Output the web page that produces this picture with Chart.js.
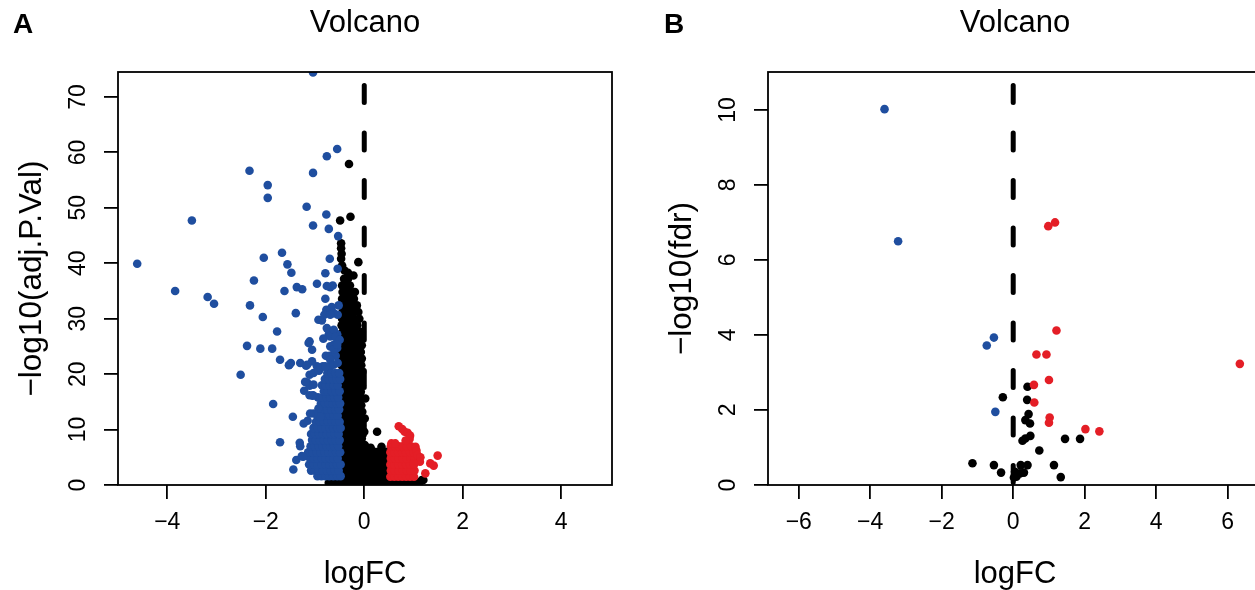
<!DOCTYPE html>
<html><head><meta charset="utf-8">
<script src="https://cdn.jsdelivr.net/npm/chart.js@4.4.1/dist/chart.umd.min.js"></script>
<style>
html,body{margin:0;padding:0;background:#fff;}
#wrap{position:relative;width:1255px;height:590px;overflow:hidden;background:#fff;}
.pan{position:absolute;top:0;width:640px;height:590px;}
.lab{position:absolute;top:8px;font:bold 28px "Liberation Sans",Arial,sans-serif;color:#000;}
</style></head><body>
<div id="wrap">
<div class="pan" style="left:0"><canvas id="cA" width="640" height="590"></canvas></div>
<div class="pan" style="left:650px"><canvas id="cB" width="640" height="590"></canvas></div>
<div class="lab" style="left:13px">A</div>
<div class="lab" style="left:664px">B</div>
</div>
<script>
// ---------- Panel A data (logFC, -log10 adj.P.Val) ----------
const xTicksA = [-4, -2, 0, 2, 4];
const yTicksA = [0, 10, 20, 30, 40, 50, 60, 70];
const blueOutA = [[-1.04,74.4],[-0.55,60.6],[-0.76,59.3],[-2.33,56.7],[-1.04,56.3],[-1.96,54.1],[-1.96,51.8],[-1.17,50.2],[-0.77,48.8],[-3.50,47.7],[-1.04,46.8],[-0.72,46.2],[-0.53,44.9],[-1.67,41.9],[-2.04,41.0],[-4.61,39.9],[-1.56,39.8],[-0.70,40.8],[-0.54,39.0],[-1.48,38.3],[-0.79,38.2],[-2.24,36.9],[-3.84,35.0],[-3.18,33.9],[-3.05,32.7],[-1.62,35.0],[-1.37,35.7],[-1.26,35.3],[-2.32,32.4],[-2.06,30.3],[-1.77,27.7],[-1.39,31.0],[-2.38,25.1],[-2.11,24.6],[-1.87,24.6],[-1.71,22.6],[-1.53,21.6],[-1.49,22.0],[-1.30,22.0],[-2.51,19.9],[-1.85,14.6],[-1.45,12.3],[-1.71,7.7],[-1.31,7.6],[-1.30,7.0],[-1.38,4.5],[-1.27,5.2],[-1.44,2.8],[-1.22,17.0],[-1.11,16.2],[-1.05,16.1],[-1.16,18.5],[-1.11,19.9],[-1.13,25.6],[-1.06,24.4],[-0.96,36.3],[-0.69,35.7],[-0.93,29.8],[-0.86,29.7],[-0.79,33.6],[-0.52,32.4],[-0.62,31.0],[-0.54,30.7],[-0.83,26.4],[-0.69,26.8],[-0.62,25.3],[-0.55,24.7],[-1.18,21.5],[-0.96,21.4],[-0.84,21.4],[-0.69,21.5],[-1.11,17.9],[-1.03,20.2],[-0.92,20.6],[-0.93,13.8],[-0.89,12.3],[-1.03,12.9],[-1.23,11.1],[-1.15,11.6],[-1.10,12.9],[-0.64,36.0],[-0.76,35.9],[-0.66,32.1],[-0.77,31.6],[-0.81,30.7],[-0.69,30.7],[-0.76,28.3],[-0.62,28.0],[-0.59,26.7],[-0.50,26.2],[-1.11,25.9],[-0.69,25.0],[-0.62,24.5],[-0.55,25.3],[-0.69,22.6],[-0.62,21.7],[-0.54,22.0],[-1.20,18.6],[-1.03,18.1],[-1.04,16.2],[-0.89,21.1],[-0.79,21.4],[-1.06,22.3],[-1.16,21.7],[-1.52,21.7],[-1.24,5.1]];
const blueCoreA = [[-0.95,1.6],[-0.87,1.6],[-0.79,1.6],[-0.71,1.6],[-0.63,1.6],[-0.55,1.6],[-0.48,1.6],
[-1.08,2.6],[-1.00,2.6],[-0.92,2.6],[-0.84,2.6],[-0.76,2.6],[-0.68,2.6],[-0.60,2.6],[-0.52,2.6],
[-1.12,3.7],[-1.03,3.7],[-0.95,3.7],[-0.87,3.7],[-0.79,3.7],[-0.71,3.7],[-0.63,3.7],[-0.55,3.7],[-0.48,3.7],
[-1.10,4.8],[-1.02,4.8],[-0.94,4.8],[-0.86,4.8],[-0.78,4.8],[-0.70,4.8],[-0.62,4.8],[-0.54,4.8],
[-1.14,5.9],[-1.05,5.9],[-0.97,5.9],[-0.89,5.9],[-0.81,5.9],[-0.73,5.9],[-0.65,5.9],[-0.57,5.9],[-0.49,5.9],
[-1.09,7.0],[-1.01,7.0],[-0.93,7.0],[-0.85,7.0],[-0.77,7.0],[-0.69,7.0],[-0.61,7.0],[-0.53,7.0],
[-1.06,8.1],[-0.98,8.1],[-0.90,8.1],[-0.82,8.1],[-0.74,8.1],[-0.66,8.1],[-0.58,8.1],[-0.50,8.1],
[-1.08,9.2],[-1.00,9.2],[-0.92,9.2],[-0.84,9.2],[-0.76,9.2],[-0.68,9.2],[-0.60,9.2],[-0.52,9.2],
[-1.03,10.3],[-0.95,10.3],[-0.87,10.3],[-0.79,10.3],[-0.71,10.3],[-0.63,10.3],[-0.55,10.3],[-0.48,10.3],
[-0.98,11.4],[-0.90,11.4],[-0.82,11.4],[-0.74,11.4],[-0.66,11.4],[-0.58,11.4],[-0.50,11.4],
[-0.95,12.5],[-0.86,12.5],[-0.78,12.5],[-0.70,12.5],[-0.62,12.5],[-0.54,12.5],
[-0.91,13.6],[-0.83,13.6],[-0.75,13.6],[-0.67,13.6],[-0.59,13.6],[-0.51,13.6],
[-0.88,14.7],[-0.80,14.7],[-0.72,14.7],[-0.64,14.7],[-0.56,14.7],[-0.49,14.7],
[-0.94,15.8],[-0.85,15.8],[-0.77,15.8],[-0.69,15.8],[-0.61,15.8],[-0.53,15.8],
[-0.82,16.9],[-0.74,16.9],[-0.66,16.9],[-0.58,16.9],[-0.50,16.9],
[-0.86,18.0],[-0.78,18.0],[-0.70,18.0],[-0.62,18.0],[-0.54,18.0],
[-0.80,19.1],[-0.72,19.1],[-0.64,19.1],[-0.56,19.1],[-0.49,19.1],
[-0.75,20.2],[-0.67,20.2],[-0.59,20.2],[-0.51,20.2],
[-0.78,23.3],[-0.70,23.3],[-0.58,23.3],[-0.72,27.2],[-0.55,27.2]];
const blackColA = [[-0.46,7.2],[-0.38,7.2],[-0.30,7.2],[-0.22,7.2],[-0.14,7.2],[-0.06,7.2],[0.01,7.2],
[-0.45,8.4],[-0.37,8.4],[-0.29,8.4],[-0.21,8.4],[-0.13,8.4],[-0.05,8.4],
[-0.47,9.6],[-0.39,9.6],[-0.31,9.6],[-0.23,9.6],[-0.15,9.6],[-0.07,9.6],[0.00,9.6],
[-0.45,10.8],[-0.37,10.8],[-0.29,10.8],[-0.21,10.8],[-0.13,10.8],[-0.05,10.8],
[-0.46,12.0],[-0.38,12.0],[-0.30,12.0],[-0.22,12.0],[-0.14,12.0],[-0.06,12.0],[0.01,12.0],
[-0.44,13.2],[-0.36,13.2],[-0.28,13.2],[-0.20,13.2],[-0.12,13.2],[-0.04,13.2],
[-0.46,14.4],[-0.38,14.4],[-0.30,14.4],[-0.22,14.4],[-0.14,14.4],[-0.06,14.4],
[-0.45,15.6],[-0.37,15.6],[-0.29,15.6],[-0.21,15.6],[-0.13,15.6],[-0.05,15.6],[0.02,15.6],
[-0.47,16.8],[-0.39,16.8],[-0.31,16.8],[-0.23,16.8],[-0.15,16.8],[-0.07,16.8],
[-0.45,18.0],[-0.37,18.0],[-0.29,18.0],[-0.21,18.0],[-0.13,18.0],[-0.05,18.0],
[-0.46,19.2],[-0.38,19.2],[-0.30,19.2],[-0.22,19.2],[-0.14,19.2],[-0.06,19.2],
[-0.44,20.4],[-0.36,20.4],[-0.28,20.4],[-0.20,20.4],[-0.12,20.4],[-0.04,20.4],
[-0.46,21.6],[-0.38,21.6],[-0.30,21.6],[-0.22,21.6],[-0.14,21.6],[-0.06,21.6],
[-0.45,22.8],[-0.37,22.8],[-0.29,22.8],[-0.21,22.8],[-0.13,22.8],[-0.05,22.8],
[-0.47,24.0],[-0.39,24.0],[-0.31,24.0],[-0.23,24.0],[-0.15,24.0],[-0.07,24.0],
[-0.45,25.2],[-0.37,25.2],[-0.29,25.2],[-0.21,25.2],[-0.13,25.2],[-0.05,25.2],
[-0.46,26.4],[-0.38,26.4],[-0.30,26.4],[-0.22,26.4],[-0.14,26.4],[-0.07,26.4],
[-0.44,27.6],[-0.36,27.6],[-0.28,27.6],[-0.20,27.6],[-0.12,27.6],[-0.05,27.6],
[-0.46,28.8],[-0.38,28.8],[-0.30,28.8],[-0.22,28.8],[-0.14,28.8],
[-0.45,30.0],[-0.37,30.0],[-0.29,30.0],[-0.21,30.0],[-0.10,30.0],
[-0.44,31.2],[-0.36,31.2],[-0.28,31.2],[-0.20,31.2],[-0.12,31.2],
[-0.46,32.4],[-0.38,32.4],[-0.30,32.4],[-0.22,32.4],[-0.15,32.4],
[-0.45,33.6],[-0.37,33.6],[-0.29,33.6],[-0.21,33.6],
[-0.44,34.8],[-0.36,34.8],[-0.28,34.8],[-0.19,34.8],
[-0.45,36.0],[-0.37,36.0],[-0.29,36.0],[-0.41,37.2],[-0.33,37.2]];
const blackBandA = [[-0.72,0.4],[-0.64,0.4],[-0.56,0.4],[-0.48,0.4],[-0.40,0.4],[-0.32,0.4],[-0.24,0.4],[-0.16,0.4],[-0.08,0.4],[0.00,0.4],[0.08,0.4],[0.16,0.4],[0.24,0.4],[0.32,0.4],[0.40,0.4],[0.48,0.4],[0.56,0.4],[0.64,0.4],[0.72,0.4],[0.80,0.4],[0.88,0.4],[0.96,0.4],[1.04,0.4],[1.12,0.4],
[-0.47,1.2],[-0.39,1.2],[-0.31,1.2],[-0.23,1.2],[-0.15,1.2],[-0.07,1.2],[0.01,1.2],[0.09,1.2],[0.17,1.2],[0.25,1.2],[0.33,1.2],[0.41,1.2],[0.60,1.0],[0.80,1.0],[1.00,1.0],[1.17,0.9],
[-0.46,2.4],[-0.38,2.4],[-0.30,2.4],[-0.22,2.4],[-0.14,2.4],[-0.06,2.4],[0.02,2.4],[0.10,2.4],[0.18,2.4],[0.26,2.4],[0.34,2.4],[0.42,2.4],
[-0.45,3.6],[-0.37,3.6],[-0.29,3.6],[-0.21,3.6],[-0.13,3.6],[-0.05,3.6],[0.03,3.6],[0.11,3.6],[0.19,3.6],[0.27,3.6],[0.35,3.6],[0.43,3.6],
[-0.47,4.8],[-0.39,4.8],[-0.31,4.8],[-0.23,4.8],[-0.15,4.8],[-0.07,4.8],[0.01,4.8],[0.09,4.8],[0.17,4.8],[0.25,4.8],[0.33,4.8],[0.41,4.8],
[-0.45,6.0],[-0.37,6.0],[-0.29,6.0],[-0.21,6.0],[-0.13,6.0],[-0.05,6.0],[0.04,6.0],[0.12,6.0],[0.20,6.0],[0.28,6.0],[0.36,6.0],[0.44,6.0],
[0.04,6.8],[0.13,6.7],[0.35,6.9]];
const blackOutA = [[-0.31,57.9],[-0.28,48.4],[-0.49,47.7],[-0.12,40.2],[-0.47,43.6],[-0.47,42.7],[-0.46,41.7],[-0.47,40.8],[-0.45,39.6],[-0.40,38.7],[-0.33,38.3],[-0.22,37.8],[0.26,9.6],[1.20,0.9]];
const redCoreA = [[0.53,1.5],[0.61,1.5],[0.69,1.5],[0.77,1.5],[0.85,1.5],[0.93,1.5],[1.01,1.5],
[0.54,2.6],[0.62,2.6],[0.70,2.6],[0.78,2.6],[0.86,2.6],[0.94,2.6],[1.02,2.6],
[0.53,3.7],[0.61,3.7],[0.69,3.7],[0.77,3.7],[0.85,3.7],[0.93,3.7],[1.01,3.7],
[0.54,4.8],[0.62,4.8],[0.70,4.8],[0.78,4.8],[0.86,4.8],[0.94,4.8],[1.02,4.8],
[0.53,5.9],[0.61,5.9],[0.69,5.9],[0.77,5.9],[0.85,5.9],[0.93,5.9],[1.00,5.9],
[0.54,7.0],[0.62,7.0],[0.70,7.0],[0.78,7.0],[0.86,7.0],[0.95,7.0],[0.55,7.5],[0.63,7.5]];
const redOutA = [[0.70,10.6],[0.77,10.1],[0.82,9.6],[0.88,9.4],[0.93,8.9],[0.92,8.3],[0.84,8.0],[1.04,6.9],[1.06,6.2],[1.08,5.4],[1.14,5.0],[1.49,5.3],[1.13,4.2],[1.34,3.9],[1.41,3.5],[1.00,3.9],[1.24,2.1]];

// ---------- Panel B data (logFC, -log10 fdr) ----------
const xTicksB = [-6, -4, -2, 0, 2, 4, 6];
const yTicksB = [0, 2, 4, 6, 8, 10];
const blueB = [[-3.60,10.02],[-3.22,6.50],[-0.54,3.93],[-0.74,3.72],[-0.50,1.95]];
const redB = [[1.21,4.12],[0.65,3.48],[0.93,3.48],[6.34,3.23],[1.00,2.80],[0.58,2.67],[0.59,2.20],[1.02,1.80],[1.00,1.66],[2.02,1.49],[2.41,1.43],[0.98,6.90],[1.17,7.00]];
const blackB = [[0.40,2.62],[-0.29,2.34],[0.39,2.27],[0.43,1.89],[0.34,1.73],[0.47,1.64],[0.48,1.31],[0.26,1.18],[0.34,1.24],[1.45,1.23],[1.87,1.23],[0.73,0.92],[-1.14,0.58],[-0.54,0.53],[-0.34,0.33],[0.21,0.53],[0.40,0.53],[1.14,0.53],[1.33,0.21],[0.09,0.22],[0.19,0.31],[0.30,0.33],[0.02,0.20],[0.05,0.35]];

const threshold = 0;
const FONT = '"Liberation Sans", Arial, Helvetica, sans-serif';
const BLUE = '#1F4E9F', RED = '#E41E26', BLACK = '#000000';

function pts(...arrs){ const o=[]; arrs.forEach(a=>a.forEach(p=>o.push({x:p[0], y:p[1]}))); return o; }
function fmt(v){ return v < 0 ? '\u2212' + Math.abs(v) : String(v); }

const rPlugin = {
  id: 'rbox',
  afterDraw(chart, args, opts){
    const {ctx, chartArea:a} = chart;
    ctx.save();
    ctx.strokeStyle = '#000'; ctx.lineWidth = 1.8;
    ctx.strokeRect(a.left, a.top, a.right - a.left, a.bottom - a.top);
    const ys = chart.scales.y;
    ctx.font = '23px ' + FONT; ctx.fillStyle = '#000';
    ctx.textAlign = 'center'; ctx.textBaseline = 'middle';
    opts.yLabels.forEach(v => {
      const py = ys.getPixelForValue(v);
      ctx.save(); ctx.translate(opts.labelX, py); ctx.rotate(-Math.PI/2);
      ctx.fillText(fmt(v), 0, 0); ctx.restore();
    });
    ctx.restore();
  }
};

function ds(data, color){
  return {data, backgroundColor: color, pointBackgroundColor: color, borderWidth: 0, pointBorderWidth: 0,
    pointRadius: 4.3, pointHoverRadius: 4.3, clip: 0};
}

function makeChart(id, cfg){
  new Chart(document.getElementById(id), {
    type: 'scatter',
    data: { datasets: [
      {type:'line', data:[{x:threshold,y:cfg.yMin},{x:threshold,y:cfg.yMax}], borderColor:'#000', borderWidth:5,
       borderDash:[17,30.5], borderDashOffset:-2.5, borderCapStyle:'round', pointRadius:0, fill:false, clip:0},
      ds(cfg.red, RED), ds(cfg.blue, BLUE), ds(cfg.black, BLACK)
    ]},
    options: {
      responsive: false, animation: false, events: [],
      layout: {padding: {left: 0, right: 28, top: 0, bottom: 0}},
      plugins: {
        legend: {display: false}, tooltip: {enabled: false},
        title: {display: true, text: 'Volcano', color: '#000', fullSize: false,
          font: {family: FONT, size: 31, weight: 'normal', lineHeight: 1}, padding: {top: 8, bottom: 33}},
        rbox: {yLabels: cfg.yTicks, labelX: 79}
      },
      scales: {
        x: {type: 'linear', position: 'bottom', min: cfg.xMin, max: cfg.xMax,
          afterBuildTicks: s => { s.ticks = cfg.xTicks.map(v => ({value: v})); },
          afterFit: s => { s.height = 105; },
          grid: {display: true, drawOnChartArea: false, drawTicks: true, tickLength: 14, color: '#000', lineWidth: 1.8},
          border: {display: false},
          ticks: {font: {family: FONT, size: 23}, color: '#000', padding: 10, maxRotation: 0, minRotation: 0, autoSkip: false,
            callback: v => fmt(v)},
          title: {display: true, text: 'logFC', color: '#000', font: {family: FONT, size: 31, lineHeight: 1}, padding: {top: 0, bottom: 0.5}}
        },
        y: {type: 'linear', position: 'left', min: cfg.yMin, max: cfg.yMax,
          afterBuildTicks: s => { s.ticks = cfg.yTicks.map(v => ({value: v})); },
          afterFit: s => { s.width = 118; },
          grid: {display: true, drawOnChartArea: false, drawTicks: true, tickLength: 14, color: '#000', lineWidth: 1.8},
          border: {display: false},
          ticks: {display: false},
          title: {display: true, text: cfg.yTitle, color: '#000', font: {family: FONT, size: 31.5, lineHeight: 1}, padding: {top: 17, bottom: 0}}
        }
      }
    },
    plugins: [rPlugin]
  });
}

makeChart('cA', {xMin: -5.0, xMax: 5.03, yMin: 0, yMax: 74.5, xTicks: xTicksA, yTicks: yTicksA,
  yTitle: '\u2212log10(adj.P.Val)',
  red: pts(redCoreA, redOutA), blue: pts(blueCoreA, blueOutA), black: pts(blackBandA, blackColA, blackOutA)});
makeChart('cB', {xMin: -6.86, xMax: 6.96, yMin: 0, yMax: 11.01, xTicks: xTicksB, yTicks: yTicksB,
  yTitle: '\u2212log10(fdr)',
  red: pts(redB), blue: pts(blueB), black: pts(blackB)});
</script>
</body></html>
